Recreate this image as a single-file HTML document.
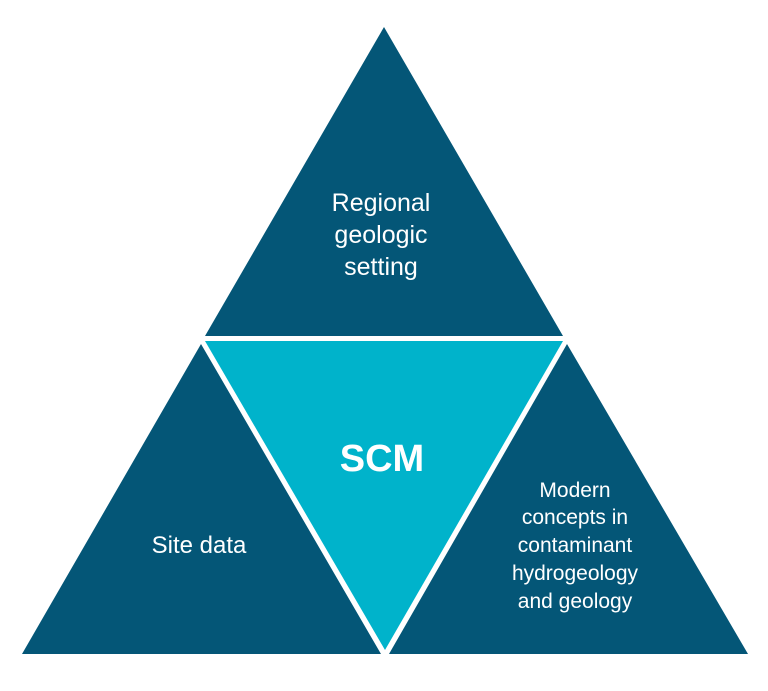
<!DOCTYPE html>
<html><head><style>body{margin:0;background:#fff}svg{display:block}text{font-family:"Liberation Sans",sans-serif;fill:#fff;text-anchor:middle}</style></head>
<body>
<svg width="768" height="691" viewBox="0 0 768 691">
<polygon points="384,27 205,336 563,336" fill="#045677"/>
<polygon points="205,341 563,341 385,650" fill="#00b3cb"/>
<polygon points="201,344 22,654 381,654" fill="#045677"/>
<polygon points="567,344 389,654 748,654" fill="#045677"/>
<text font-size="25" font-weight="500"><tspan x="381" y="211">Regional</tspan><tspan x="381" y="243">geologic</tspan><tspan x="381" y="275">setting</tspan></text>
<text x="382" y="471" font-size="38" font-weight="bold">SCM</text>
<text x="199" y="553" font-size="24" font-weight="500">Site data</text>
<text font-size="21" font-weight="500"><tspan x="575" y="497">Modern</tspan><tspan x="575" y="524">concepts in</tspan><tspan x="575" y="552">contaminant</tspan><tspan x="575" y="580">hydrogeology</tspan><tspan x="575" y="608">and geology</tspan></text>
</svg>
</body></html>
